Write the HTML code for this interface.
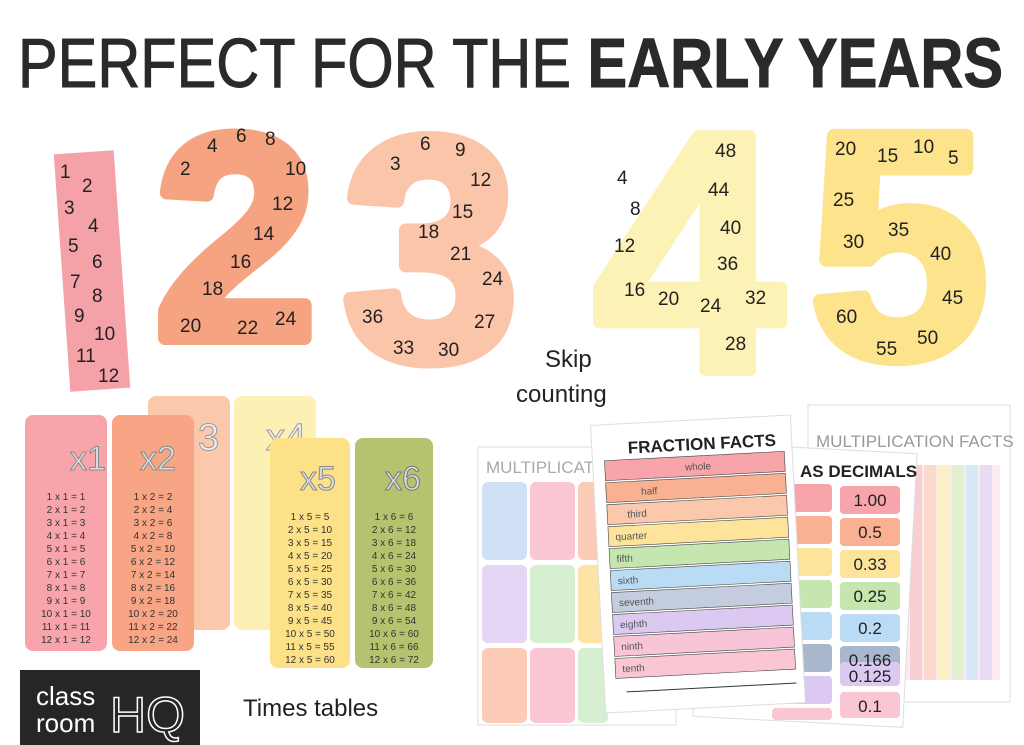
<!DOCTYPE html>
<html><head><meta charset="utf-8"><style>
html,body{margin:0;padding:0;background:#fff;}
svg{display:block;font-family:"Liberation Sans",sans-serif;}
</style></head><body>
<svg width="1024" height="745" viewBox="0 0 1024 745" xmlns="http://www.w3.org/2000/svg">
<rect width="1024" height="745" fill="#fff"/>
<text x="18" y="87" font-size="70" fill="#2a2a2a" stroke="#2a2a2a" stroke-width="1" textLength="985" lengthAdjust="spacingAndGlyphs"><tspan>PERFECT FOR THE </tspan><tspan font-weight="bold">EARLY YEARS</tspan></text>

<rect x="62" y="152" width="60" height="238" fill="#f4a2a8" transform="rotate(-4 92 271)"/>
<text x="155" y="338" font-size="290" font-weight="bold" fill="#f6a382" stroke="#f6a382" stroke-width="14" stroke-linejoin="round">2</text>
<text x="343" y="358" font-size="315" font-weight="bold" fill="#fbc5aa" stroke="#fbc5aa" stroke-width="14" stroke-linejoin="round">3</text>
<text x="594" y="370" font-size="340" font-weight="bold" fill="#fdf2b5" stroke="#fdf2b5" stroke-width="12" stroke-linejoin="round">4</text>
<text x="810" y="356" font-size="320" font-weight="bold" fill="#fce38c" stroke="#fce38c" stroke-width="14" stroke-linejoin="round">5</text>

<g font-size="19" fill="#222">
<text x="60" y="178">1</text><text x="82" y="192">2</text><text x="64" y="214">3</text><text x="88" y="232">4</text><text x="68" y="252">5</text><text x="92" y="268">6</text><text x="70" y="288">7</text><text x="92" y="302">8</text><text x="74" y="322">9</text><text x="94" y="340">10</text><text x="76" y="362">11</text><text x="98" y="382">12</text>
<text x="180" y="175">2</text><text x="207" y="152">4</text><text x="236" y="142">6</text><text x="265" y="145">8</text><text x="285" y="175">10</text><text x="272" y="210">12</text><text x="253" y="240">14</text><text x="230" y="268">16</text><text x="202" y="295">18</text><text x="180" y="332">20</text><text x="237" y="334">22</text><text x="275" y="325">24</text>
<text x="390" y="170">3</text><text x="420" y="150">6</text><text x="455" y="156">9</text><text x="470" y="186">12</text><text x="452" y="218">15</text><text x="418" y="238">18</text><text x="450" y="260">21</text><text x="482" y="285">24</text><text x="474" y="328">27</text><text x="438" y="356">30</text><text x="393" y="354">33</text><text x="362" y="323">36</text>
<text x="617" y="184">4</text><text x="630" y="215">8</text><text x="614" y="252">12</text><text x="624" y="296">16</text><text x="658" y="305">20</text><text x="700" y="312">24</text><text x="725" y="350">28</text><text x="745" y="304">32</text><text x="717" y="270">36</text><text x="720" y="234">40</text><text x="708" y="196">44</text><text x="715" y="157">48</text>
<text x="835" y="155">20</text><text x="877" y="162">15</text><text x="913" y="153">10</text><text x="948" y="164">5</text><text x="833" y="206">25</text><text x="843" y="248">30</text><text x="888" y="236">35</text><text x="930" y="260">40</text><text x="942" y="304">45</text><text x="917" y="344">50</text><text x="876" y="355">55</text><text x="836" y="323">60</text>
</g>

<text x="545" y="367" font-size="24" fill="#222">Skip</text>
<text x="516" y="402" font-size="24" fill="#222">counting</text>

<rect x="148" y="396" width="82" height="234" rx="8" fill="#fbc8ac"/>
<text x="198" y="450" font-size="38" fill="#eee" stroke="#999" stroke-width="1">3</text>
<rect x="234" y="396" width="82" height="234" rx="8" fill="#fdf0b5"/>
<text x="266" y="450" font-size="38" fill="#eee" stroke="#999" stroke-width="1">x4</text>
<rect x="25" y="415" width="82" height="236" rx="8" fill="#f7a4ab"/>
<text x="70" y="470" font-size="34" fill="#ddd" stroke="#888" stroke-width="1">x1</text>
<rect x="112" y="415" width="82" height="236" rx="8" fill="#f7a585"/>
<text x="140" y="470" font-size="34" fill="#ddd" stroke="#888" stroke-width="1">x2</text>
<rect x="270" y="438" width="80" height="230" rx="8" fill="#fce188"/>
<text x="300" y="490" font-size="34" fill="#ddd" stroke="#888" stroke-width="1">x5</text>
<rect x="355" y="438" width="78" height="230" rx="8" fill="#b5c36f"/>
<text x="385" y="490" font-size="34" fill="#ddd" stroke="#777" stroke-width="1">x6</text>
<g font-size="10" fill="#333" text-anchor="middle">
<text x="66" y="500">1 x 1 = 1</text><text x="66" y="513">2 x 1 = 2</text><text x="66" y="526">3 x 1 = 3</text><text x="66" y="539">4 x 1 = 4</text><text x="66" y="552">5 x 1 = 5</text><text x="66" y="565">6 x 1 = 6</text><text x="66" y="578">7 x 1 = 7</text><text x="66" y="591">8 x 1 = 8</text><text x="66" y="604">9 x 1 = 9</text><text x="66" y="617">10 x 1 = 10</text><text x="66" y="630">11 x 1 = 11</text><text x="66" y="643">12 x 1 = 12</text>
<text x="153" y="500">1 x 2 = 2</text><text x="153" y="513">2 x 2 = 4</text><text x="153" y="526">3 x 2 = 6</text><text x="153" y="539">4 x 2 = 8</text><text x="153" y="552">5 x 2 = 10</text><text x="153" y="565">6 x 2 = 12</text><text x="153" y="578">7 x 2 = 14</text><text x="153" y="591">8 x 2 = 16</text><text x="153" y="604">9 x 2 = 18</text><text x="153" y="617">10 x 2 = 20</text><text x="153" y="630">11 x 2 = 22</text><text x="153" y="643">12 x 2 = 24</text>
<text x="310" y="520">1 x 5 = 5</text><text x="310" y="533">2 x 5 = 10</text><text x="310" y="546">3 x 5 = 15</text><text x="310" y="559">4 x 5 = 20</text><text x="310" y="572">5 x 5 = 25</text><text x="310" y="585">6 x 5 = 30</text><text x="310" y="598">7 x 5 = 35</text><text x="310" y="611">8 x 5 = 40</text><text x="310" y="624">9 x 5 = 45</text><text x="310" y="637">10 x 5 = 50</text><text x="310" y="650">11 x 5 = 55</text><text x="310" y="663">12 x 5 = 60</text>
<text x="394" y="520">1 x 6 = 6</text><text x="394" y="533">2 x 6 = 12</text><text x="394" y="546">3 x 6 = 18</text><text x="394" y="559">4 x 6 = 24</text><text x="394" y="572">5 x 6 = 30</text><text x="394" y="585">6 x 6 = 36</text><text x="394" y="598">7 x 6 = 42</text><text x="394" y="611">8 x 6 = 48</text><text x="394" y="624">9 x 6 = 54</text><text x="394" y="637">10 x 6 = 60</text><text x="394" y="650">11 x 6 = 66</text><text x="394" y="663">12 x 6 = 72</text>
</g>

<rect x="20" y="670" width="180" height="75" fill="#262626"/>
<text x="36" y="705" font-size="26" fill="#fff">class</text>
<text x="36" y="732" font-size="26" fill="#fff">room</text>
<text x="110" y="732" font-size="50" fill="none" stroke="#fff" stroke-width="1.5">HQ</text>
<text x="243" y="716" font-size="24" fill="#222">Times tables</text>

<rect x="808" y="405" width="202" height="297" fill="#fff" stroke="#ddd"/>
<text x="816" y="447" font-size="17" fill="#999">MULTIPLICATION FACTS</text>
<g opacity="0.85">
<rect x="900" y="465" width="100" height="215" fill="#fde8f0"/>
<rect x="910" y="465" width="12" height="215" fill="#f9c6cc"/>
<rect x="924" y="465" width="12" height="215" fill="#fbd3c2"/>
<rect x="938" y="465" width="12" height="215" fill="#fdeebd"/>
<rect x="952" y="465" width="12" height="215" fill="#dcefc8"/>
<rect x="966" y="465" width="12" height="215" fill="#cfe4f5"/>
<rect x="980" y="465" width="12" height="215" fill="#e3d6f3"/>
</g>
<rect x="478" y="447" width="198" height="278" fill="#fff" stroke="#ddd"/>
<text x="486" y="473" font-size="17" fill="#aaa">MULTIPLICATIO</text>
<rect x="482" y="482" width="45" height="78" rx="6" fill="#cfe0f5"/>
<rect x="530" y="482" width="45" height="78" rx="6" fill="#f9c6d2"/>
<rect x="578" y="482" width="30" height="78" rx="6" fill="#fbcbb5"/>
<rect x="482" y="565" width="45" height="78" rx="6" fill="#e5d6f5"/>
<rect x="530" y="565" width="45" height="78" rx="6" fill="#d6efd0"/>
<rect x="578" y="565" width="30" height="78" rx="6" fill="#fde4a6"/>
<rect x="482" y="648" width="45" height="75" rx="6" fill="#fbcbb5"/>
<rect x="530" y="648" width="45" height="75" rx="6" fill="#f9c6d2"/>
<rect x="578" y="648" width="30" height="75" rx="6" fill="#d6efd0"/>
<rect x="700" y="448" width="210" height="274" fill="#fff" stroke="#ddd" transform="rotate(3 805 585)"/>
<text x="800" y="477" font-size="17" font-weight="bold" fill="#222">AS DECIMALS</text>
<g>
<rect x="772" y="484" width="60" height="28" rx="4" fill="#f7a4ab"/><rect x="840" y="486" width="60" height="28" rx="4" fill="#f7a4ab"/>
<rect x="772" y="516" width="60" height="28" rx="4" fill="#f9b093"/><rect x="840" y="518" width="60" height="28" rx="4" fill="#f9b093"/>
<rect x="772" y="548" width="60" height="28" rx="4" fill="#fde49a"/><rect x="840" y="550" width="60" height="28" rx="4" fill="#fde49a"/>
<rect x="772" y="580" width="60" height="28" rx="4" fill="#c5e6ae"/><rect x="840" y="582" width="60" height="28" rx="4" fill="#c5e6ae"/>
<rect x="772" y="612" width="60" height="28" rx="4" fill="#b9dcf4"/><rect x="840" y="614" width="60" height="28" rx="4" fill="#b9dcf4"/>
<rect x="772" y="644" width="60" height="28" rx="4" fill="#a9b7cc"/><rect x="840" y="646" width="60" height="28" rx="4" fill="#a9b7cc"/>
<rect x="772" y="676" width="60" height="28" rx="4" fill="#dcc9f1"/><rect x="840" y="662" width="60" height="24" rx="4" fill="#dcc9f1"/>
<rect x="772" y="708" width="60" height="12" rx="4" fill="#f9c6d2"/><rect x="840" y="692" width="60" height="26" rx="4" fill="#f9c6d2"/>
<g font-size="17" fill="#222" text-anchor="middle"><text x="870" y="506">1.00</text><text x="870" y="538">0.5</text><text x="870" y="570">0.33</text><text x="870" y="602">0.25</text><text x="870" y="634">0.2</text><text x="870" y="666">0.166</text><text x="870" y="682">0.125</text><text x="870" y="712">0.1</text></g>
</g>
<rect x="598" y="420" width="200" height="288" fill="#fff" stroke="#ddd" transform="rotate(-3 698 564)"/>
<g transform="rotate(-3 698 564)">
<text x="634" y="450" font-size="17" font-weight="bold" fill="#222">FRACTION FACTS</text>
<rect x="610" y="456" width="180" height="20" fill="#f7a4ab" stroke="#444" stroke-width="0.6"/>
<rect x="610" y="478" width="180" height="20" fill="#f9b093" stroke="#444" stroke-width="0.6"/>
<rect x="610" y="500" width="180" height="20" fill="#fbc8ac" stroke="#444" stroke-width="0.6"/>
<rect x="610" y="522" width="180" height="20" fill="#fde49a" stroke="#444" stroke-width="0.6"/>
<rect x="610" y="544" width="180" height="20" fill="#c5e6ae" stroke="#444" stroke-width="0.6"/>
<rect x="610" y="566" width="180" height="20" fill="#b9dcf4" stroke="#444" stroke-width="0.6"/>
<rect x="610" y="588" width="180" height="20" fill="#c4cce0" stroke="#444" stroke-width="0.6"/>
<rect x="610" y="610" width="180" height="20" fill="#dcc9f1" stroke="#444" stroke-width="0.6"/>
<rect x="610" y="632" width="180" height="20" fill="#f7c4d8" stroke="#444" stroke-width="0.6"/>
<rect x="610" y="654" width="180" height="20" fill="#f9c6d2" stroke="#444" stroke-width="0.6"/>
<g font-size="10" fill="#555"><text x="690" y="470">whole</text><text x="645" y="492">half</text><text x="630" y="514">third</text><text x="617" y="536">quarter</text><text x="617" y="558">fifth</text><text x="617" y="580">sixth</text><text x="617" y="602">seventh</text><text x="617" y="624">eighth</text><text x="617" y="646">ninth</text><text x="617" y="668">tenth</text></g>
<line x1="620" y1="688" x2="790" y2="688" stroke="#333"/>
</g>
</svg>
</body></html>
